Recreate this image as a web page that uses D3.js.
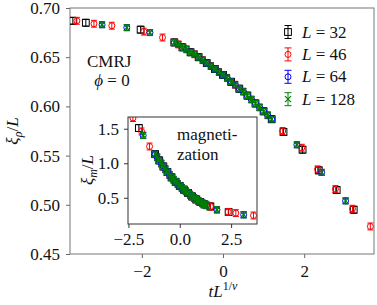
<!DOCTYPE html>
<html>
<head>
<meta charset="utf-8">
<script src="https://cdn.jsdelivr.net/npm/d3@7"></script>
<style>
body { margin: 0; background: #fff; }
svg { display: block; }
text { font-family: "Liberation Serif", "DejaVu Serif", serif; fill: #111; }
</style>
</head>
<body>
<svg id="chart" width="377" height="305"></svg>
<script>
var sizes = [32, 46, 64, 128];
var colors = ["#000000", "#ff0000", "#0000ff", "#008000"];
var marks = ["square", "circle", "circle", "x"];

// main panel : [t L^(1/nu), xi_rho / L]
var rho32 = [[-3.70,.687],[-3.38,.685],[-2.03,.678],[-1.2,.665],[-1.0,.660],[-0.8,.655],[-0.6,.650],[-0.4,.644],[-0.2,.638],[0,.632],[0.2,.625],[0.4,.618],[0.6,.611],[0.8,.603],[1.0,.595],[1.2,.587],[1.49,.574],[1.96,.556],[2.36,.535],[2.80,.515],[3.22,.495]];
var rho46 = [[-3.60,.687],[-3.18,.684],[-2.74,.682],[-1.95,.676],[-1.49,.670],[-1.1,.663],[-0.9,.658],[-0.7,.653],[-0.5,.647],[-0.3,.641],[-0.1,.635],[0.1,.629],[0.3,.622],[0.5,.615],[0.7,.607],[0.9,.599],[1.1,.591],[1.47,.575],[1.94,.558],[2.33,.536],[2.77,.516],[3.19,.496],[3.63,.478]];
var rho64 = [[-2.98,.683],[-2.37,.680],[-1.80,.675],[-1.2,.665],[-1.1,.663],[-1.0,.660],[-0.9,.658],[-0.8,.655],[-0.7,.653],[-0.6,.650],[-0.5,.647],[-0.4,.644],[-0.3,.641],[-0.2,.638],[-0.1,.635],[0,.632],[0.1,.629],[0.2,.625],[0.3,.622],[0.4,.618],[0.5,.615],[0.6,.611],[0.7,.607],[0.8,.603],[0.9,.599],[1.0,.595],[1.1,.591],[1.2,.587],[1.82,.561],[2.43,.533],[3.02,.504]];
var rho128 = [[-2.98,.683],[-2.37,.680],[-1.80,.675],[-1.2,.665],[-1.1,.663],[-1.0,.660],[-0.9,.658],[-0.8,.655],[-0.7,.653],[-0.6,.650],[-0.5,.647],[-0.4,.644],[-0.3,.641],[-0.2,.638],[-0.1,.635],[0,.632],[0.1,.629],[0.2,.625],[0.3,.622],[0.4,.618],[0.5,.615],[0.6,.611],[0.7,.607],[0.8,.603],[0.9,.599],[1.0,.595],[1.1,.591],[1.2,.587],[1.82,.561],[2.43,.533],[3.02,.504]];

// inset : [t L^(1/nu), xi_m / L]
var mag32 = [[-1.99,1.51],[-1.2,1.132],[-1.0,1.041],[-0.8,.953],[-0.6,.872],[-0.4,.795],[-0.2,.731],[0,.672],[0.2,.618],[0.4,.570],[0.6,.519],[0.8,.476],[1.0,.438],[1.2,.404],[1.49,.374],[2.38,.293]];
var mag46 = [[-2.28,1.655],[-1.86,1.461],[-1.47,1.243],[-1.1,1.086],[-0.9,.996],[-0.7,.913],[-0.5,.832],[-0.3,.762],[-0.1,.701],[0.1,.644],[0.3,.594],[0.5,.545],[0.7,.497],[0.9,.457],[1.1,.420],[1.3,.391],[1.49,.374],[2.36,.295],[2.73,.278],[3.59,.243]];
var mag64 = [[-1.78,1.403],[-1.2,1.132],[-1.1,1.086],[-1.0,1.041],[-0.9,.996],[-0.8,.953],[-0.7,.913],[-0.6,.872],[-0.5,.832],[-0.4,.795],[-0.3,.762],[-0.2,.731],[-0.1,.701],[0,.672],[0.1,.644],[0.2,.618],[0.3,.594],[0.4,.570],[0.5,.545],[0.6,.519],[0.7,.497],[0.8,.476],[0.9,.457],[1.0,.438],[1.1,.420],[1.2,.404],[1.3,.391],[1.81,.326],[3.11,.254]];
var mag128 = [[-1.78,1.403],[-1.2,1.132],[-1.1,1.086],[-1.0,1.041],[-0.9,.996],[-0.8,.953],[-0.7,.913],[-0.6,.872],[-0.5,.832],[-0.4,.795],[-0.3,.762],[-0.2,.731],[-0.1,.701],[0,.672],[0.1,.644],[0.2,.618],[0.3,.594],[0.4,.570],[0.5,.545],[0.6,.519],[0.7,.497],[0.8,.476],[0.9,.457],[1.0,.438],[1.1,.420],[1.2,.404],[1.3,.391],[1.81,.326],[3.11,.254]];

var errRho = [0.0035, 0.0035, 0.003, 0.003];
var errMag = [0.05, 0.05, 0.045, 0.045];

var mainXTicks = [-2, 0, 2];
var mainYTicks = [0.45, 0.50, 0.55, 0.60, 0.65, 0.70];
var insetXTicks = [-2.5, 0, 2.5];
var insetYTicks = [0.5, 1.0, 1.5];

var svg = d3.select("#chart");
var minus = function (s) { return s.replace("-", "\u2212"); };

// main axes
var x = d3.scaleLinear().domain([-3.77, 3.72]).range([70, 374]);
var y = d3.scaleLinear().domain([0.45, 0.70]).range([254, 8]);

var xAxis = svg.append("g").attr("transform", "translate(0,254)")
    .call(d3.axisBottom(x).tickValues(mainXTicks).tickSize(4).tickPadding(5)
        .tickFormat(function (d) { return minus(d3.format("d")(d)); }));
var yAxis = svg.append("g").attr("transform", "translate(70,0)")
    .call(d3.axisLeft(y).tickValues(mainYTicks).tickSize(4).tickPadding(6)
        .tickFormat(d3.format(".2f")));
[xAxis, yAxis].forEach(function (a) {
    a.select(".domain").remove();
    a.selectAll("line").attr("stroke", "#666");
    a.selectAll("text").style("font-size", "17px").attr("fill", "#111");
});
xAxis.selectAll("text").attr("dy", "0.85em");

svg.append("rect").attr("x", 70).attr("y", 8).attr("width", 304).attr("height", 246)
    .attr("fill", "none").attr("stroke", "#777").attr("stroke-width", 1);

svg.append("clipPath").attr("id", "clipMain").append("rect")
    .attr("x", 70).attr("y", 8).attr("width", 304).attr("height", 246);
svg.append("clipPath").attr("id", "clipInset").append("rect")
    .attr("x", 128).attr("y", 117).attr("width", 129).attr("height", 107);

function drawMarker(g, kind, color) {
    if (kind === "square") {
        g.append("rect").attr("x", -3.4).attr("y", -3.4).attr("width", 6.8).attr("height", 6.8)
            .attr("fill", "none").attr("stroke", color).attr("stroke-width", 1);
    } else if (kind === "circle") {
        g.append("circle").attr("r", 3).attr("fill", "none").attr("stroke", color).attr("stroke-width", 1);
    } else {
        g.append("path").attr("d", "M-3,-3L3,3M-3,3L3,-3")
            .attr("stroke", color).attr("stroke-width", 1.2);
    }
}

function drawSeries(layer, data, xs, ys, err, color, kind) {
    var pts = layer.selectAll(null).data(data).enter().append("g")
        .attr("transform", function (d) { return "translate(" + xs(d[0]) + "," + ys(d[1]) + ")"; });
    pts.each(function (d) {
        var g = d3.select(this);
        var dy = ys(d[1] - err) - ys(d[1]);
        g.append("path").attr("d", "M0," + (-dy) + "V" + dy + "M-3," + (-dy) + "H3M-3," + dy + "H3")
            .attr("stroke", color).attr("stroke-width", 1).attr("fill", "none");
        drawMarker(g, kind, color);
    });
}

var mainLayer = svg.append("g").attr("clip-path", "url(#clipMain)");
[rho32, rho46, rho64, rho128].forEach(function (data, i) {
    drawSeries(mainLayer, data, x, y, errRho[i], colors[i], marks[i]);
});

// labels of main panel
var ylab = svg.append("text").attr("transform", "translate(18,131) rotate(-90)")
    .attr("text-anchor", "middle").style("font-size", "17px");
ylab.append("tspan").style("font-style", "italic").text("\u03be");
ylab.append("tspan").style("font-style", "italic").style("font-size", "12px").attr("dy", 4).text("\u03c1");
ylab.append("tspan").attr("dy", -4).text("/");
ylab.append("tspan").style("font-style", "italic").text("L");

var xlab = svg.append("text").attr("x", 223).attr("y", 297).attr("text-anchor", "middle").style("font-size", "17px");
xlab.append("tspan").style("font-style", "italic").text("tL");
xlab.append("tspan").style("font-size", "12px").attr("dy", -7).text("1/");
xlab.append("tspan").style("font-size", "12px").style("font-style", "italic").text("\u03bd");

svg.append("text").attr("x", 87).attr("y", 67).style("font-size", "17px").text("CMRJ");
var phi = svg.append("text").attr("x", 112).attr("y", 86).attr("text-anchor", "middle").style("font-size", "17px");
phi.append("tspan").style("font-style", "italic").text("\u03d5");
phi.append("tspan").text(" = 0");

// legend
sizes.forEach(function (s, i) {
    var ly = 32 + i * 22.4;
    var g = svg.append("g").attr("transform", "translate(288," + ly + ")");
    g.append("path").attr("d", "M0,-6.5V6.5M-3.5,-6.5H3.5M-3.5,6.5H3.5")
        .attr("stroke", colors[i]).attr("stroke-width", 1).attr("fill", "none");
    drawMarker(g, marks[i], colors[i]);
    var t = svg.append("text").attr("x", 302).attr("y", ly + 5.5).style("font-size", "17px");
    t.append("tspan").style("font-style", "italic").text("L");
    t.append("tspan").text(" = " + s);
});

// inset
var xi = d3.scaleLinear().domain([-2.52, 3.76]).range([128, 257]);
var yi = d3.scaleLinear().domain([0.12, 1.67]).range([224, 117]);

svg.append("rect").attr("x", 128).attr("y", 117).attr("width", 129).attr("height", 107)
    .attr("fill", "#fff");

var ixAxis = svg.append("g").attr("transform", "translate(0,224)")
    .call(d3.axisBottom(xi).tickValues(insetXTicks).tickSize(4).tickPadding(4)
        .tickFormat(function (d) { return minus(d3.format(".1f")(d)); }));
var iyAxis = svg.append("g").attr("transform", "translate(128,0)")
    .call(d3.axisLeft(yi).tickValues(insetYTicks).tickSize(4).tickPadding(5)
        .tickFormat(d3.format(".1f")));
[ixAxis, iyAxis].forEach(function (a) {
    a.select(".domain").remove();
    a.selectAll("line").attr("stroke", "#333");
    a.selectAll("text").style("font-size", "17px").attr("fill", "#111");
});
ixAxis.selectAll("text").attr("dy", "0.75em");

var insetLayer = svg.append("g").attr("clip-path", "url(#clipInset)");
[mag32, mag46, mag64, mag128].forEach(function (data, i) {
    drawSeries(insetLayer, data, xi, yi, errMag[i], colors[i], marks[i]);
});

svg.append("rect").attr("x", 128).attr("y", 117).attr("width", 129).attr("height", 107)
    .attr("fill", "none").attr("stroke", "#333").attr("stroke-width", 1);

svg.append("text").attr("x", 177).attr("y", 140).style("font-size", "17px").text("magneti-");
svg.append("text").attr("x", 177).attr("y", 160).style("font-size", "17px").text("zation");

var iylab = svg.append("text").attr("transform", "translate(93,170) rotate(-90)")
    .attr("text-anchor", "middle").style("font-size", "17px");
iylab.append("tspan").style("font-style", "italic").text("\u03be");
iylab.append("tspan").style("font-style", "italic").style("font-size", "12px").attr("dy", 4).text("m");
iylab.append("tspan").attr("dy", -4).text("/");
iylab.append("tspan").style("font-style", "italic").text("L");
</script>
</body>
</html>
